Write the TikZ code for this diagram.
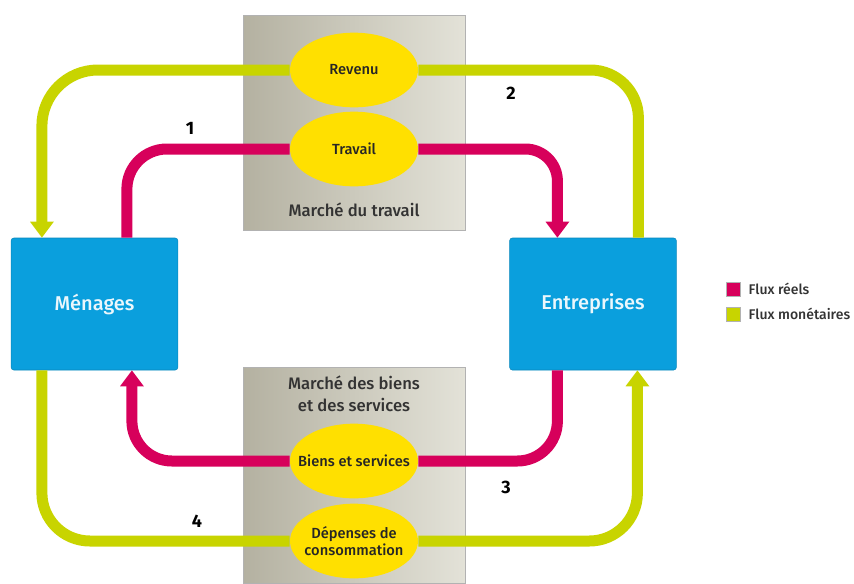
\documentclass[tikz,border=0pt]{standalone}
\usepackage{fontspec}
\setmainfont{Fira Sans Medium}[BoldFont={Fira Sans Bold}]
\usetikzlibrary{arrows.meta,calc,shapes.geometric}
\definecolor{bleu}{HTML}{0A9FDD}
\definecolor{jaune}{HTML}{FFE000}
\definecolor{rouge}{HTML}{D7005B}
\definecolor{vert}{HTML}{C8D400}
\definecolor{grisf}{HTML}{B4B1A1}
\definecolor{grisc}{HTML}{E3E2D8}
\tikzset{
  agent/.style={fill=bleu, draw=bleu!85!black, rounded corners=2pt,
    minimum width=125pt, minimum height=99pt, text=white!92!bleu,
    font=\fontsize{15}{17}\selectfont},
  marche/.style={ellipse, fill=jaune, minimum width=96pt, minimum height=56pt,
    inner xsep=-12pt, inner ysep=0pt, align=center, text=black!85,
    font=\fontsize{11}{12.5}\selectfont},
  reel/.style={draw=rouge, line width=8.25pt, rounded corners=30pt},
  monet/.style={draw=vert, line width=8.25pt, rounded corners=36pt},
  fleche/.style={-{Triangle[width=17pt,length=12pt]}},
  num/.style={font=\fontsize{13.5}{15}\selectfont\bfseries},
  titre/.style={align=center, text=black!80, font=\fontsize{12.5}{16.5}\selectfont},
  legende/.style={anchor=west, font=\fontsize{10.5}{12}\selectfont, text=black!80},
}
\begin{document}
\begin{tikzpicture}[x=0.75pt,y=-0.75pt]
      \useasboundingbox (0,0) rectangle (854,583);
      % marches
      \shade[left color=grisf,right color=grisc,draw=gray!60] (243,15) rectangle (465,230);
      \shade[left color=grisf,right color=grisc,draw=gray!60] (243,367) rectangle (465,583);
      \node (mtrav) at (354,210) [titre] {Marché du travail};
      \node (mbiens) at (354,394) [titre] {Marché des biens\\et des services};
      % agents
      \node (men) at (94.5,304) [agent] {Ménages};
      \node (ent) at (593,304) [agent] {Entreprises};
      \node (rev) at (354,70) [marche] {Revenu};
      \node (trav) at (354,149) [marche] {Travail};
      \node (biens) at (354,461) [marche] {Biens et services};
      \node (dep) at (354,541) [marche] {Dépenses de\\consommation};
      % flux
      \draw[monet,fleche,rounded corners=42pt] (rev.west) -| ($(men.north west)+(31,0)$);
      \draw[monet] (rev.east) -| ($(ent.north west)+(129,0)$);
      \draw[reel] ($(men.north west)+(116,0)$) |- (trav.west);
      \draw[reel,fleche,rounded corners=24pt] (trav.east) -| ($(ent.north west)+(48,0)$);
      \draw[reel] ($(ent.south west)+(48,0)$) |- (biens.east);
      \draw[reel,fleche] (biens.west) -| ($(men.south west)+(121,0)$);
      \draw[monet] ($(men.south west)+(31,0)$) |- (dep.west);
      \draw[monet,fleche] (dep.east) -| ($(ent.south west)+(128,0)$);
      \node at (190,128) [num] {1};
      \node at (511,93) [num] {2};
      \node at (506,487) [num] {3};
      \node at (197,521) [num] {4};
      % legende
      \node (lr) at (733,289) [fill=rouge,draw=gray!60,minimum size=10.5pt,inner sep=0pt] {};
      \node (lv) at (733,314) [fill=vert,draw=gray!60,minimum size=10.5pt,inner sep=0pt] {};
      \node at (744,289) [legende] {Flux réels};
      \node at (744,314) [legende] {Flux monétaires};
\end{tikzpicture}
\end{document}
